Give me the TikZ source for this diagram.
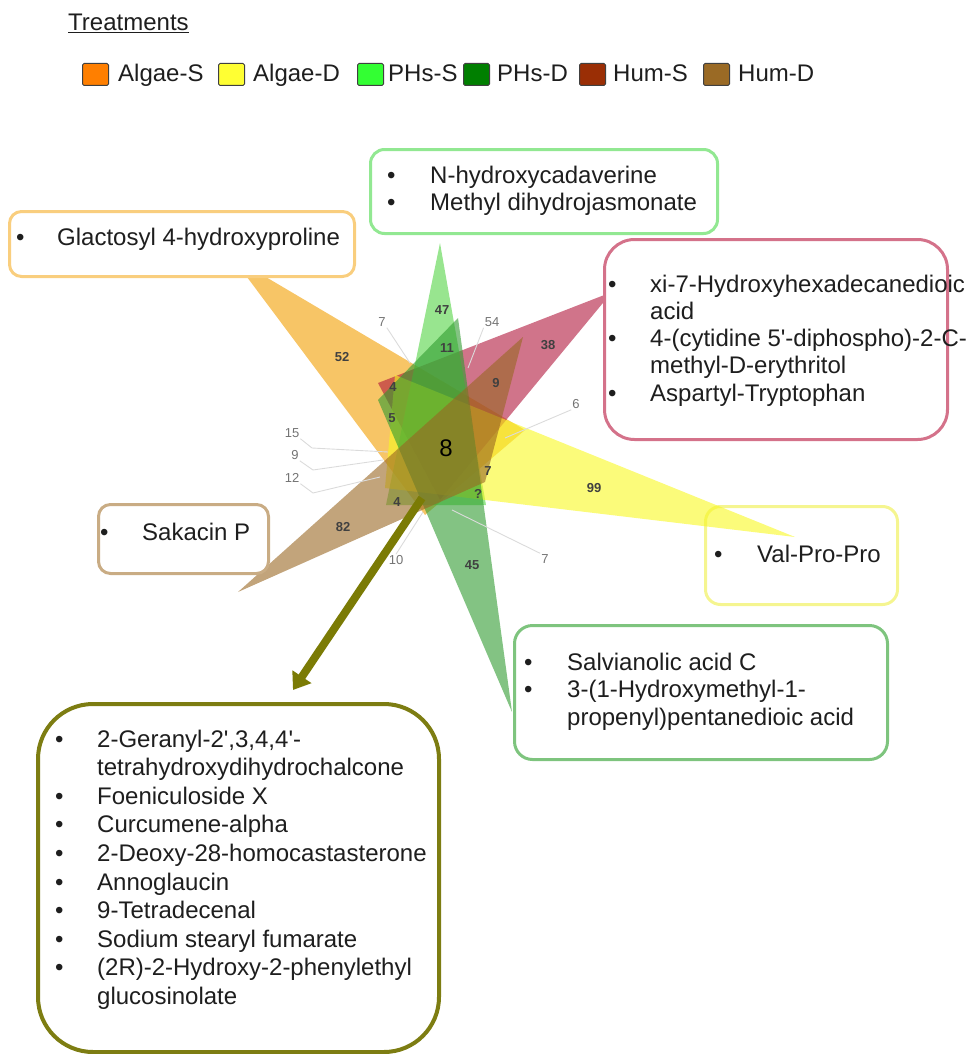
\documentclass[tikz,border=0pt]{standalone}
\usepackage{fontspec}
\setmainfont{Liberation Sans}
\usetikzlibrary{arrows.meta}
\definecolor{cAlgS}{HTML}{F29E00}
\definecolor{cAlgD}{HTML}{F8F821}
\definecolor{cPhS}{HTML}{53D444}
\definecolor{cPhD}{HTML}{309B30}
\definecolor{cHumS}{HTML}{B1173C}
\definecolor{cHumD}{HTML}{996723}
\definecolor{bAlgS}{HTML}{F9CE7E}
\definecolor{bPhS}{HTML}{92E892}
\definecolor{bHumS}{HTML}{D4728A}
\definecolor{bHumD}{HTML}{C9AC84}
\definecolor{bAlgD}{HTML}{F5F590}
\definecolor{bPhD}{HTML}{7EC47E}
\definecolor{bOlive}{HTML}{7D7D12}
\definecolor{arrOlive}{HTML}{7B7B05}
\definecolor{lgAlgS}{HTML}{FF7F00}
\definecolor{lgAlgD}{HTML}{FFFF33}
\definecolor{lgPhS}{HTML}{33FF33}
\definecolor{lgPhD}{HTML}{007F00}
\definecolor{lgHumS}{HTML}{9A2E05}
\definecolor{lgHumD}{HTML}{9A6A25}
\definecolor{txtc}{HTML}{1E1E1E}
\newcommand\mybul[1]{\makebox[#1][l]{•}}
\begin{document}
\begin{tikzpicture}[x=1pt,y=-1pt,
  tri/.style={fill=#1, fill opacity=0.6},
  box/.style={draw=#1, line width=3pt, fill=white, inner sep=0pt, anchor=north west},
  txt/.style={anchor=base west, inner sep=0pt, text=txtc},
  num/.style={font=\bfseries\fontsize{13}{13}\selectfont, text=black!75, inner sep=1pt},
  onum/.style={font=\fontsize{13}{13}\selectfont, text=black!55, inner sep=1pt},
  leader/.style={draw=black!14, line width=0.9pt},
  arr/.style={draw=arrOlive, line width=8pt, -{Triangle[length=16pt,width=22pt]}},
  legsq/.style={draw=black!75, line width=1pt, minimum width=26pt, minimum height=22pt, inner sep=0pt, anchor=north west, rounded corners=1.5pt},
  legtxt/.style={anchor=base west, inner sep=0pt, text=txtc, font=\fontsize{24}{24}\selectfont}
]
\useasboundingbox (0,0) rectangle (966,1054);

% ---------- legend ----------
\node[legtxt] (ttl) at (68,31) {\underline{Treatments}};
\node[legsq, fill=lgAlgS] (sq1) at (82,63) {};
\node[legtxt] (lg1) at (118,82) {Algae-S};
\node[legsq, fill=lgAlgD] (sq2) at (218,63) {};
\node[legtxt] (lg2) at (253,82) {Algae-D};
\node[legsq, fill=lgPhS] (sq3) at (357,63) {};
\node[legtxt] (lg3) at (388,82) {PHs-S};
\node[legsq, fill=lgPhD] (sq4) at (463,63) {};
\node[legtxt] (lg4) at (497,82) {PHs-D};
\node[legsq, fill=lgHumS] (sq5) at (579,63) {};
\node[legtxt] (lg5) at (613,82) {Hum-S};
\node[legsq, fill=lgHumD] (sq6) at (703,63) {};
\node[legtxt] (lg6) at (738,82) {Hum-D};

% ---------- Val-Pro-Pro box (under the yellow triangle) ----------
\node[box=bAlgD, fill=none, rounded corners=15pt, minimum width=192pt, minimum height=98pt] (b5) at (704,505) {};

% ---------- triangles ----------
\fill[tri=cAlgS] (232,257) -- (425,515) -- (525,430) -- cycle;
\fill[tri=cHumS] (612,292) -- (378,383) -- (440,500) -- cycle;
\fill[tri=cPhS] (440,243) -- (386,505) -- (486,505) -- cycle;
\fill[tri=cAlgD] (795,537) -- (395,375) -- (385,488) -- cycle;
\fill[tri=cPhD] (512,712) -- (378,400) -- (458,318) -- cycle;
\fill[tri=cHumD] (238,592) -- (523,337) -- (485,482) -- cycle;

% ---------- outer counts with leader lines ----------
\node[onum] (o7a) at (382,322) {7};
\node[onum] (o54) at (492,322) {54};
\node[onum] (o6) at (576,404) {6};
\node[onum] (o15) at (292,433) {15};
\node[onum] (o9) at (295,455) {9};
\node[onum] (o12) at (292,478) {12};
\node[onum] (o10) at (396,560) {10};
\node[onum] (o7b) at (545,559) {7};
\coordinate (e7a) at (410,363);
\coordinate (e54) at (468,368);
\coordinate (e6) at (505,438);
\coordinate (k15) at (312,448);
\coordinate (e15) at (388,452);
\coordinate (k9) at (313,470);
\coordinate (e9) at (383,460);
\coordinate (k12) at (313,493);
\coordinate (e12) at (380,477);
\coordinate (e10) at (423,512);
\coordinate (e7b) at (452,510);
\draw[leader] (o7a.south east) -- (e7a);
\draw[leader] (o54.south west) -- (e54);
\draw[leader] (o6.south west) -- (e6);
\draw[leader] (o15.south east) -- (k15) -- (e15);
\draw[leader] (o9.south east) -- (k9) -- (e9);
\draw[leader] (o12.south east) -- (k12) -- (e12);
\draw[leader] (o10.north) -- (e10);
\draw[leader] (o7b.north west) -- (e7b);

% ---------- inner counts ----------
\node[num] (n52) at (342,357) {52};
\node[num] (n47) at (442,310) {47};
\node[num] (n11) at (447,348) {11};
\node[num] (n38) at (548,345) {38};
\node[num] (n4a) at (393,387) {4};
\node[num] (n9a) at (496,383) {9};
\node[num] (n5) at (392,418) {5};
\node[font=\fontsize{24}{24}\selectfont, text=black, inner sep=1pt] (n8) at (446,448) {8};
\node[num] (n7a) at (488,471) {7};
\node[num] (nq) at (478,494) {?};
\node[num] (n99) at (594,488) {99};
\node[num] (n4b) at (397,502) {4};
\node[num] (n82) at (343,527) {82};
\node[num] (n45) at (472,565) {45};

% ---------- arrow ----------
\coordinate (arrS) at (422,498);
\coordinate (arrE) at (293,690);
\draw[arr] (arrS) -- (arrE);

% ---------- boxes ----------
\node[box=bAlgS, rounded corners=12pt, minimum width=345pt, minimum height=65pt] (b1) at (8,210) {};
\node[txt, font=\fontsize{24}{27.5}\selectfont] (t1) at (16,245)
  {\begin{tabular}[t]{@{}l@{}l@{}}\mybul{41pt}&Glactosyl 4-hydroxyproline\end{tabular}};

\node[box=bPhS, rounded corners=14pt, minimum width=347pt, minimum height=84pt] (b2) at (369,148) {};
\node[txt, font=\fontsize{24}{27.3}\selectfont] (t2) at (387,183)
  {\begin{tabular}[t]{@{}l@{}l@{}}\mybul{43pt}&N-hydroxycadaverine\\ \mybul{43pt}&Methyl dihydrojasmonate\end{tabular}};

\node[box=bHumS, rounded corners=30pt, minimum width=343pt, minimum height=200pt] (b3) at (603,238) {};
\node[txt, font=\fontsize{24}{27.3}\selectfont] (t3) at (608,292)
  {\begin{tabular}[t]{@{}l@{}l@{}}\mybul{42pt}&xi-7-Hydroxyhexadecanedioic\\ &acid\\ \mybul{42pt}&4-(cytidine 5\textquotesingle-diphospho)-2-C-\\ &methyl-D-erythritol\\ \mybul{42pt}&Aspartyl-Tryptophan\end{tabular}};

\node[box=bHumD, rounded corners=12pt, minimum width=170pt, minimum height=69pt] (b4) at (97,503) {};
\node[txt, font=\fontsize{24}{27.5}\selectfont] (t4) at (100,540)
  {\begin{tabular}[t]{@{}l@{}l@{}}\mybul{42pt}&Sakacin P\end{tabular}};

\node[txt, font=\fontsize{24}{27.5}\selectfont] (t5) at (714,562)
  {\begin{tabular}[t]{@{}l@{}l@{}}\mybul{43pt}&Val-Pro-Pro\end{tabular}};

\node[box=bPhD, rounded corners=18pt, minimum width=373pt, minimum height=134pt] (b6) at (513,624) {};
\node[txt, font=\fontsize{24}{27.5}\selectfont] (t6) at (524,670)
  {\begin{tabular}[t]{@{}l@{}l@{}}\mybul{43pt}&Salvianolic acid C\\ \mybul{43pt}&3-(1-Hydroxymethyl-1-\\ &propenyl)pentanedioic acid\end{tabular}};

\node[box=bOlive, line width=4pt, rounded corners=55pt, minimum width=401pt, minimum height=348pt] (b7) at (36,702) {};
\node[txt, font=\fontsize{24}{28.6}\selectfont] (t7) at (55,747)
  {\begin{tabular}[t]{@{}l@{}l@{}}\mybul{42pt}&2-Geranyl-2\textquotesingle,3,4,4\textquotesingle-\\ &tetrahydroxydihydrochalcone\\ \mybul{42pt}&Foeniculoside X\\ \mybul{42pt}&Curcumene-alpha\\ \mybul{42pt}&2-Deoxy-28-homocastasterone\\ \mybul{42pt}&Annoglaucin\\ \mybul{42pt}&9-Tetradecenal\\ \mybul{42pt}&Sodium stearyl fumarate\\ \mybul{42pt}&(2R)-2-Hydroxy-2-phenylethyl\\ &glucosinolate\end{tabular}};
\end{tikzpicture}
\end{document}
